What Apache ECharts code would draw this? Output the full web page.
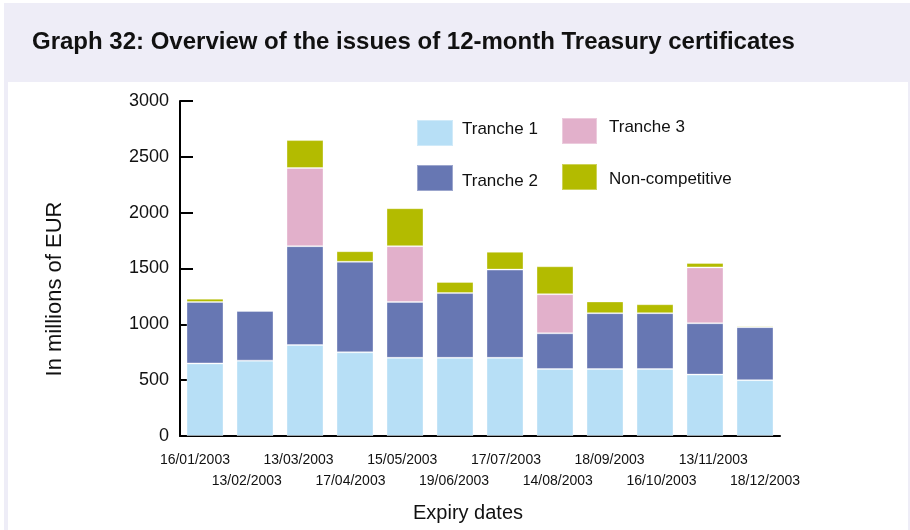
<!DOCTYPE html>
<html>
<head>
<meta charset="utf-8">
<script src="https://cdn.jsdelivr.net/npm/echarts@6/dist/echarts.min.js"></script>
<style>html,body{margin:0;padding:0;background:#fff}#chart{width:910px;height:530px}</style>
</head>
<body>
<div id="chart"></div>
<script>
var categories = ['16/01/2003','13/02/2003','13/03/2003','17/04/2003','15/05/2003','19/06/2003','17/07/2003','14/08/2003','18/09/2003','16/10/2003','13/11/2003','18/12/2003'];
var tranche1 = [650, 675, 815, 750, 700, 700, 700, 600, 600, 600, 550, 500];
var tranche2 = [550, 445, 885, 810, 500, 580, 790, 320, 500, 500, 460, 475];
var tranche3 = [null, null, 700, null, 500, null, null, 350, null, null, 500, null];
var nonCompetitive = [30, null, 250, 95, 340, 100, 160, 250, 105, 80, 40, 10];
var yMin = 0, yMax = 3000, yStep = 500;

var FONT = '"Liberation Sans", Arial, Helvetica, sans-serif';
var colors = { t1: '#b7dff6', t2: '#6777b3', t3: '#e2b0cb', nc: '#b3bb00' };

function bar(name, data, color) {
  return {
    name: name, type: 'bar', stack: 'total', data: data,
    xAxisIndex: 0, yAxisIndex: 0,
    barWidth: 37,
    itemStyle: { color: color, borderColor: 'rgba(255,255,255,0.35)', borderWidth: 1 }
  };
}

var legendRich = {
  up: { fontSize: 17, color: '#111', fontFamily: FONT, padding: [0, 0, 8, 4] },
  down: { fontSize: 17, color: '#111', fontFamily: FONT, padding: [6, 0, 0, 4] },
  up2: { fontSize: 17, color: '#111', fontFamily: FONT, padding: [0, 0, 8, 7] },
  down2: { fontSize: 17, color: '#111', fontFamily: FONT, padding: [4, 0, 0, 7] }
};

var chart = echarts.init(document.getElementById('chart'), null, { renderer: 'canvas' });
chart.setOption({
  backgroundColor: '#ffffff',
  animation: false,
  textStyle: { fontFamily: FONT },
  graphic: [
    { type: 'rect', z: -10, shape: { x: 4, y: 3, width: 906, height: 527 }, style: { fill: '#eeedf7' } },
    { type: 'rect', z: -9, shape: { x: 8, y: 82, width: 900, height: 448 }, style: { fill: '#ffffff' } },
    { type: 'text', x: 55, y: 289, rotation: Math.PI / 2,
      style: { text: 'In millions of EUR', fontSize: 22, fontFamily: FONT, fill: '#111', align: 'center', verticalAlign: 'middle' } },
    { type: 'text', x: 468, y: 513,
      style: { text: 'Expiry dates', fontSize: 20, fontFamily: FONT, fill: '#111', align: 'center', verticalAlign: 'middle' } }
  ],
  title: {
    text: 'Graph 32: Overview of the issues of 12-month Treasury certificates',
    left: 32, top: 30, padding: 0,
    textStyle: { fontSize: 24, fontWeight: 'bold', color: '#111', fontFamily: FONT }
  },
  legend: [
    { data: ['Tranche 1', 'Tranche 2'], orient: 'vertical', left: 416, top: 119, padding: 0,
      itemWidth: 36, itemHeight: 26, itemGap: 17, icon: 'rect', selectedMode: false,
      formatter: function (n) { return n === 'Tranche 1' ? '{up|' + n + '}' : '{down|' + n + '}'; },
      textStyle: { fontSize: 17, color: '#111', rich: legendRich } },
    { data: ['Tranche 3', 'Non-competitive'], orient: 'vertical', left: 561, top: 117, padding: 0,
      itemWidth: 35, itemHeight: 26, itemGap: 18, icon: 'rect', selectedMode: false,
      formatter: function (n) { return n === 'Tranche 3' ? '{up2|' + n + '}' : '{down2|' + n + '}'; },
      textStyle: { fontSize: 17, color: '#111', rich: legendRich } }
  ],
  grid: [
    { left: 180, top: 101, width: 600, height: 335, containLabel: false },
    { left: 169, top: 101, width: 622, height: 335, containLabel: false }
  ],
  xAxis: [
    {
      gridIndex: 0, type: 'category', data: categories, boundaryGap: true,
      axisLine: { lineStyle: { color: '#000', width: 2 } },
      axisTick: { inside: true, length: 6, lineStyle: { color: '#000', width: 2 } },
      axisLabel: { show: false },
      splitLine: { show: false }
    },
    {
      gridIndex: 1, type: 'category', data: categories, boundaryGap: true,
      axisLine: { show: false }, axisTick: { show: false }, splitLine: { show: false },
      axisLabel: {
        interval: 0, margin: 14, fontSize: 14, color: '#111', lineHeight: 21,
        formatter: function (v, i) { return i % 2 ? '\n' + v : v; }
      }
    }
  ],
  yAxis: [
    {
      gridIndex: 0, type: 'value', min: yMin, max: yMax, interval: yStep,
      axisLine: { show: true, lineStyle: { color: '#000', width: 2 } },
      axisTick: { show: true, inside: true, length: 13, lineStyle: { color: '#000', width: 2 } },
      axisLabel: { margin: 11, fontSize: 18, color: '#111', formatter: function (v) { return String(v); } },
      splitLine: { show: false }
    },
    { gridIndex: 1, type: 'value', min: yMin, max: yMax, show: false }
  ],
  series: [
    bar('Tranche 1', tranche1, colors.t1),
    bar('Tranche 2', tranche2, colors.t2),
    bar('Tranche 3', tranche3, colors.t3),
    bar('Non-competitive', nonCompetitive, colors.nc)
  ]
});
</script>
</body>
</html>
